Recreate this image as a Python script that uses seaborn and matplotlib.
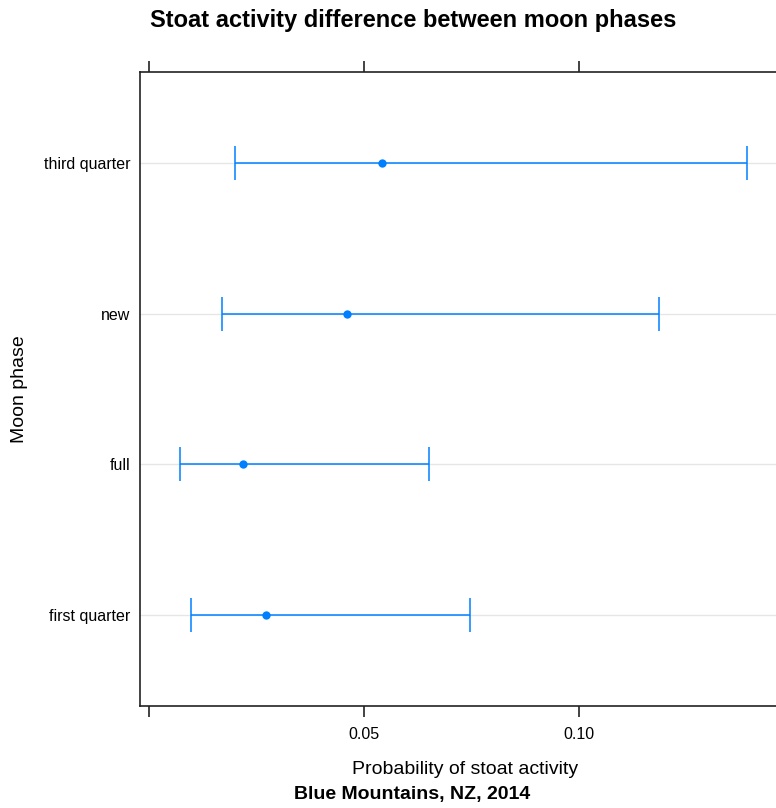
import matplotlib
matplotlib.use("Agg")
import matplotlib.pyplot as plt
import seaborn as sns
import pandas as pd

# moon phase estimates, top to bottom as drawn
phases = ["third quarter", "new", "full", "first quarter"]
estimate = [0.0542, 0.0460, 0.0218, 0.0273]
lower = [0.0200, 0.0170, 0.0072, 0.0098]
upper = [0.1390, 0.1186, 0.0651, 0.0747]

x_ticks = [0.0, 0.05, 0.10]
x_tick_labels = ["", "0.05", "0.10"]

blue = "#0080ff"

df = pd.DataFrame({"phase": phases, "estimate": estimate,
                   "lower": lower, "upper": upper})

sns.set_theme(style="white")
plt.rcParams["font.family"] = ["Liberation Sans", "DejaVu Sans"]
plt.rcParams["text.color"] = "black"
plt.rcParams["axes.labelcolor"] = "black"
plt.rcParams["xtick.color"] = "black"
plt.rcParams["ytick.color"] = "black"

fig = plt.figure(figsize=(7.76, 8.08), dpi=100)
ax = fig.add_axes([140 / 776, 102 / 808, 650 / 776, 634 / 808])

ypos = range(len(phases))
for y in ypos:
    ax.axhline(y, color="#e6e6e6", lw=1, zorder=0)

ax.errorbar(df["estimate"], list(ypos),
            xerr=[df["estimate"] - df["lower"], df["upper"] - df["estimate"]],
            fmt="none", ecolor=blue, elinewidth=1.1, capsize=12, capthick=1.1,
            zorder=2)
sns.scatterplot(x=df["estimate"], y=list(ypos), ax=ax, color=blue, s=36,
                edgecolor=blue, linewidth=0, zorder=3, legend=False)

ax.set_ylim(3.6, -0.6)
ax.set_xlim(-0.0021, 0.149)
ax.set_yticks(list(ypos))
ax.set_yticklabels(phases, fontsize=11.5)
ax.set_xticks(x_ticks)
ax.set_xticklabels(x_tick_labels, fontsize=11.5)
ax.tick_params(axis="x", which="both", direction="out", length=8, width=1.2,
               color="#222222", top=True, bottom=True, labeltop=False, pad=7)
ax.tick_params(axis="y", length=0, pad=7)

for side in ["left", "top", "bottom"]:
    ax.spines[side].set_color("#222222")
    ax.spines[side].set_linewidth(1.2)
ax.spines["right"].set_visible(False)

ax.set_xlabel("Probability of stoat activity", fontsize=14, labelpad=14)
ax.set_ylabel("Moon phase", fontsize=14)
ax.yaxis.set_label_coords(-0.172, 0.5)

fig.text(413 / 776, 1 - 20 / 808, "Stoat activity difference between moon phases",
         ha="center", va="center", fontsize=17, fontweight="bold")
fig.text(412 / 776, 1 - 795 / 808, "Blue Mountains, NZ, 2014",
         ha="center", va="center", fontsize=14, fontweight="bold")

fig.savefig("out.png", dpi=100)
